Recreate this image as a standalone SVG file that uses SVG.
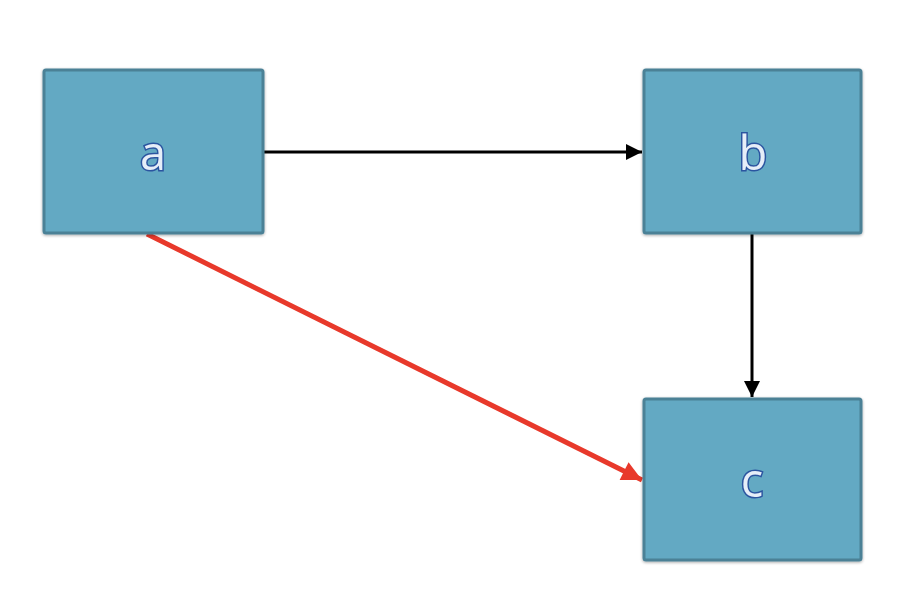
<svg xmlns="http://www.w3.org/2000/svg" width="900" height="612" viewBox="0 0 900 612">
<defs>
<marker id="ab" viewBox="0 0 10 10" refX="10" refY="5" markerWidth="5.5" markerHeight="5.5" orient="auto" markerUnits="strokeWidth"><path d="M0,0 L10,5 L0,10 z" fill="#000"/></marker>
<marker id="ar" viewBox="0 0 10 10" refX="10" refY="5" markerWidth="4.5" markerHeight="4" orient="auto" markerUnits="strokeWidth"><path d="M0,0 L10,5 L0,10 z" fill="#e8392b"/></marker>
<filter id="sh" x="-10%" y="-10%" width="120%" height="120%"><feGaussianBlur in="SourceAlpha" stdDeviation="1.5"/><feOffset dx="0" dy="1"/><feComponentTransfer><feFuncA type="linear" slope="0.35"/></feComponentTransfer><feMerge><feMergeNode/><feMergeNode in="SourceGraphic"/></feMerge></filter>
</defs>
<style>
.box{fill:#63a9c3;stroke:#4b8196;stroke-width:3;}
.lbl{font-family:"Open Sans","Liberation Sans",Arial,sans-serif;font-size:47px;fill:#e6eef8;stroke:#2c55a0;stroke-width:3;paint-order:stroke;text-anchor:middle;}
</style>
<rect width="900" height="612" fill="#fff"/>
<g id="connectors">
<line x1="264" y1="152" x2="642" y2="152" stroke="#000" stroke-width="3" marker-end="url(#ab)"/>
<line x1="752" y1="234" x2="752" y2="397" stroke="#000" stroke-width="3" marker-end="url(#ab)"/>
<line x1="147" y1="234" x2="642" y2="480" stroke="#e8392b" stroke-width="5" marker-end="url(#ar)"/>
</g>
<g id="node-a" filter="url(#sh)"><rect class="box" x="44" y="70" width="219" height="163" rx="2"/><text class="lbl" x="153" y="170">a</text></g>
<g id="node-b" filter="url(#sh)"><rect class="box" x="644" y="70" width="217" height="163" rx="2"/><text class="lbl" x="753" y="170">b</text></g>
<g id="node-c" filter="url(#sh)"><rect class="box" x="644" y="399" width="217" height="161" rx="2"/><text class="lbl" x="752" y="497">c</text></g>
</svg>
